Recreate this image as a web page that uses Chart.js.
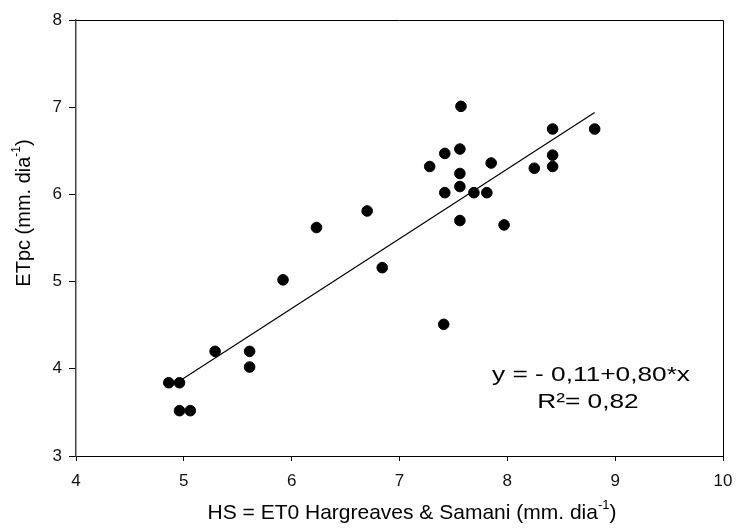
<!DOCTYPE html>
<html>
<head>
<meta charset="utf-8">
<script src="https://cdn.jsdelivr.net/npm/chart.js@4.4.1/dist/chart.umd.min.js"></script>
<style>
    body { margin: 0; background: #fff; }
    #wrap { width: 736px; height: 529px; }
</style>
</head>
<body>
<div id="wrap"><canvas id="chart" width="736" height="529"></canvas></div>
<script>
// measured points (HS x, ETpc y)
const hsValues = [4.86, 4.96, 4.96, 5.06, 5.29, 5.61, 5.61, 5.92, 6.23, 6.70, 6.84,
    7.28, 7.41, 7.42, 7.42, 7.56, 7.56, 7.56, 7.56, 7.57, 7.69, 7.81, 7.85, 7.97,
    8.25, 8.42, 8.42, 8.42, 8.81];
const etpcValues = [3.84, 3.84, 3.52, 3.52, 4.20, 4.20, 4.02, 5.02, 5.62, 5.81, 5.16,
    6.32, 4.51, 6.47, 6.02, 6.52, 6.24, 6.09, 5.70, 7.01, 6.02, 6.02, 6.36, 5.65,
    6.30, 6.75, 6.45, 6.32, 6.75];

// regression line ends
const fitX = [4.96, 8.81];
const fitY = [3.86, 6.94];

const xTicks = [4, 5, 6, 7, 8, 9, 10];
const yTicks = [3, 4, 5, 6, 7, 8];

const equationLines = ['y = - 0,11+0,80*x', 'R²= 0,82'];

const FONT = 'Arial, "Liberation Sans", sans-serif';

// draws text with a superscript part: [base, sup, tail], centred on x
const drawSupText = (ctx, parts, size, x, y) => {
    const [base, sup, tail] = parts;
    const supSize = Math.round(size * 0.62);
    ctx.font = `${size}px ${FONT}`;
    const w1 = ctx.measureText(base).width;
    const w3 = ctx.measureText(tail).width;
    ctx.font = `${supSize}px ${FONT}`;
    const w2 = ctx.measureText(sup).width;
    let cx = x - (w1 + w2 + w3) / 2;
    ctx.textAlign = 'left';
    ctx.textBaseline = 'middle';
    ctx.font = `${size}px ${FONT}`;
    ctx.fillText(base, cx, y);
    cx += w1;
    ctx.font = `${supSize}px ${FONT}`;
    ctx.fillText(sup, cx, y - size * 0.38);
    cx += w2;
    ctx.font = `${size}px ${FONT}`;
    ctx.fillText(tail, cx, y);
};

const decorPlugin = {
    id: 'decor',
    afterDraw(chart) {
        const { ctx, chartArea } = chart;
        ctx.save();
        // top and right frame
        ctx.strokeStyle = '#000';
        ctx.lineWidth = 1;
        ctx.beginPath();
        ctx.moveTo(chartArea.left, chartArea.top + 0.5);
        ctx.lineTo(chartArea.right + 0.5, chartArea.top + 0.5);
        ctx.lineTo(chartArea.right + 0.5, chartArea.bottom);
        ctx.stroke();

        ctx.fillStyle = '#000';
        drawSupText(ctx, ['HS = ET0 Hargreaves & Samani (mm. dia', '-1', ')'], 21, 412, 513);
        ctx.translate(24, 213);
        ctx.rotate(-Math.PI / 2);
        drawSupText(ctx, ['ETpc (mm. dia', '-1', ')'], 20, 0, 0);
        ctx.restore();

        // equation text, a bit wider than plain Arial like the original
        ctx.save();
        ctx.fillStyle = '#000';
        ctx.font = `21px ${FONT}`;
        ctx.textAlign = 'center';
        ctx.textBaseline = 'middle';
        ctx.translate(591, 375);
        ctx.scale(1.25, 1);
        ctx.fillText(equationLines[0], 0, 0);
        ctx.fillText(equationLines[1], -2.4, 27);
        ctx.restore();
    }
};

new Chart(document.getElementById('chart'), {
    type: 'scatter',
    data: {
        datasets: [
            {
                label: 'ETpc',
                data: hsValues.map((x, i) => ({ x: x, y: etpcValues[i] })),
                backgroundColor: '#000',
                borderColor: '#000',
                pointRadius: 5.3,
                pointHoverRadius: 5.3
            },
            {
                type: 'line',
                label: 'fit',
                data: fitX.map((x, i) => ({ x: x, y: fitY[i] })),
                borderColor: '#000',
                borderWidth: 1.2,
                pointRadius: 0,
                fill: false
            }
        ]
    },
    options: {
        responsive: false,
        animation: false,
        layout: { padding: { top: 20, right: 13, left: 0, bottom: 0 } },
        plugins: {
            legend: { display: false },
            tooltip: { enabled: false }
        },
        scales: {
            x: {
                type: 'linear',
                min: 4,
                max: 10,
                afterBuildTicks: (scale) => { scale.ticks = xTicks.map(v => ({ value: v })); },
                afterFit: (scale) => {
                    scale.height = 73;
                    scale.paddingLeft = 0;
                    scale.paddingRight = 0;
                },
                grid: { drawOnChartArea: false, drawTicks: true, tickLength: 5, color: '#000' },
                border: { color: '#000', width: 1 },
                ticks: { color: '#111', font: { size: 17, family: FONT }, padding: 10, maxRotation: 0 }
            },
            y: {
                type: 'linear',
                min: 3,
                max: 8,
                afterBuildTicks: (scale) => { scale.ticks = yTicks.map(v => ({ value: v })); },
                afterFit: (scale) => {
                    scale.width = 76;
                    scale.paddingTop = 0;
                    scale.paddingBottom = 0;
                },
                grid: { drawOnChartArea: false, drawTicks: true, tickLength: 7, color: '#000' },
                border: { color: '#444', width: 1.5 },
                ticks: { color: '#111', font: { size: 17, family: FONT }, padding: 7 }
            }
        }
    },
    plugins: [decorPlugin]
});
</script>
</body>
</html>
